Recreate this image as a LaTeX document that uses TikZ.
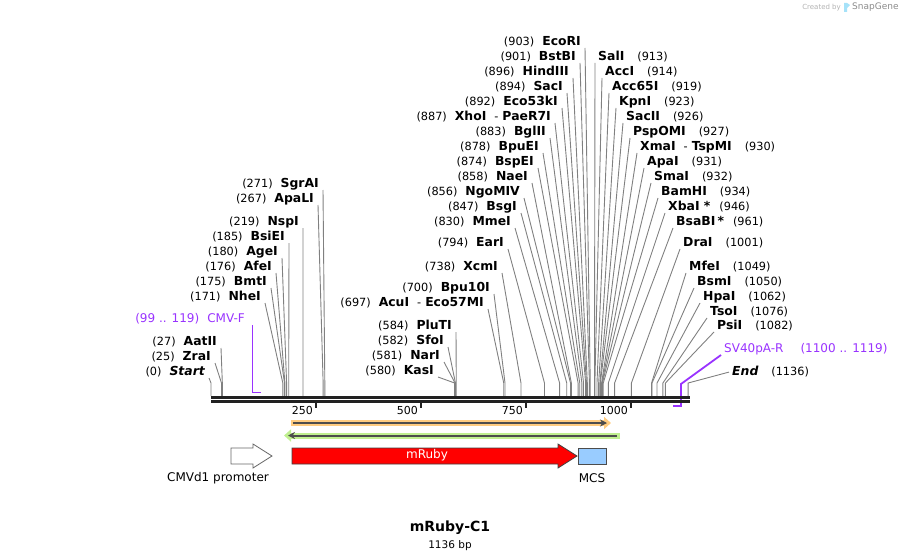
\documentclass[tikz,border=0pt]{standalone}
\usepackage{fontspec}
\setmainfont{DejaVu Sans}
\usepackage{tikz}
\usetikzlibrary{
  arrows.meta,
  positioning}

\definecolor{sitegray}{HTML}{808080}
\definecolor{primerpurple}{HTML}{9933FF}
\definecolor{orfdark}{HTML}{4D4D4D}
\definecolor{orfhaloA}{HTML}{FFCC80}
\definecolor{orfhaloB}{HTML}{C0F090}
\definecolor{mcsblue}{HTML}{99CCFF}

\newcommand{\nm}[1]{{\fontsize{12.4}{13}\selectfont\bfseries #1}}
\newcommand{\bpx}[1]{211+0.42*#1}

\tikzset{
  lsite/.style={anchor=south east, inner xsep=4pt, inner ysep=0pt, text depth=2pt,
    font=\fontsize{11.3}{12}\selectfont},
  rsite/.style={lsite, anchor=south west, inner xsep=3pt},
  cut/.style={draw=sitegray, line width=0.9pt},
  primer/.style={draw=primerpurple, line width=1.8pt},
  featlabel/.style={font=\fontsize{12}{13}\selectfont},
  ticklabel/.style={anchor=east, inner sep=0pt, font=\fontsize{11}{12}\selectfont}
}

\begin{document}
\begin{tikzpicture}[x=1pt, y=-1pt]
\useasboundingbox (0,0) rectangle (901,559);

% sites left of 300
\node[lsite] (sgrai) at (323,190) {(271)\hspace{8pt}\nm{SgrAI}};
\node[lsite] (apali) at (318,205) {(267)\hspace{8pt}\nm{ApaLI}};
\node[lsite] (nspi) at (303,228) {(219)\hspace{8pt}\nm{NspI}};
\node[lsite] (bsiei) at (289,243) {(185)\hspace{8pt}\nm{BsiEI}};
\node[lsite] (agei) at (282,258) {(180)\hspace{8pt}\nm{AgeI}};
\node[lsite] (afei) at (276,273) {(176)\hspace{8pt}\nm{AfeI}};
\node[lsite] (bmti) at (271,288) {(175)\hspace{8pt}\nm{BmtI}};
\node[lsite] (nhei) at (265,303) {(171)\hspace{8pt}\nm{NheI}};
\node[lsite] (aatii) at (221,348) {(27)\hspace{8pt}\nm{AatII}};
\node[lsite] (zrai) at (215,363) {(25)\hspace{8pt}\nm{ZraI}};
\node[lsite] (start) at (209,378) {(0)\hspace{8pt}\nm{\itshape Start}};

\draw[cut] (sgrai.south east) -- ({\bpx{271}},383) -- ++(0,13);
\draw[cut] (apali.south east) -- ({\bpx{267}},383) -- ++(0,13);
\draw[cut] (nspi.south east) -- ({\bpx{219}},383) -- ++(0,13);
\draw[cut] (bsiei.south east) -- ({\bpx{185}},383) -- ++(0,13);
\draw[cut] (agei.south east) -- ({\bpx{180}},383) -- ++(0,13);
\draw[cut] (afei.south east) -- ({\bpx{176}},383) -- ++(0,13);
\draw[cut] (bmti.south east) -- ({\bpx{175}},383) -- ++(0,13);
\draw[cut] (nhei.south east) -- ({\bpx{171}},383) -- ++(0,13);
\draw[cut] (aatii.south east) -- ({\bpx{27}},383) -- ++(0,13);
\draw[cut] (zrai.south east) -- ({\bpx{25}},383) -- ++(0,13);
\draw[cut] (start.south east) -- ({\bpx{0}},383) -- ++(0,13);

% primer CMV-F
\node[lsite, text=primerpurple, font=\fontsize{12}{13}\selectfont] (cmvf) at (249,325)
  {(99 .. 119)\hspace{8pt}CMV-F};
\coordinate (cmvfend) at ({\bpx{119}},392.5);
\draw[primer] (cmvf.south east -| {\bpx{99}},0) -- ({\bpx{99}},392.5) -- (cmvfend);

% sites in the middle, left side of the fan
\node[lsite] (acui) at (488,309) {(697)\hspace{8pt}\nm{AcuI}\hspace{8pt}-\hspace{4pt}\nm{Eco57MI}};
\node[lsite] (bpu10i) at (494,294) {(700)\hspace{8pt}\nm{Bpu10I}};
\node[lsite] (pluti) at (456,332) {(584)\hspace{8pt}\nm{PluTI}};
\node[lsite] (sfoi) at (448,347) {(582)\hspace{8pt}\nm{SfoI}};
\node[lsite] (nari) at (444,362) {(581)\hspace{8pt}\nm{NarI}};
\node[lsite] (kasi) at (438,377) {(580)\hspace{8pt}\nm{KasI}};
\node[lsite] (xcmi) at (502,273) {(738)\hspace{8pt}\nm{XcmI}};
\node[lsite] (eari) at (508,249) {(794)\hspace{8pt}\nm{EarI}};
\node[lsite] (mmei) at (515,228) {(830)\hspace{8pt}\nm{MmeI}};
\node[lsite] (bsgi) at (521,213) {(847)\hspace{8pt}\nm{BsgI}};
\node[lsite] (ngomiv) at (524,198) {(856)\hspace{8pt}\nm{NgoMIV}};
\node[lsite] (naei) at (532,183) {(858)\hspace{8pt}\nm{NaeI}};
\node[lsite] (bspei) at (538,168) {(874)\hspace{8pt}\nm{BspEI}};
\node[lsite] (bpuei) at (543,153) {(878)\hspace{8pt}\nm{BpuEI}};
\node[lsite] (bglii) at (550,138) {(883)\hspace{8pt}\nm{BglII}};
\node[lsite] (xhoi) at (555,123) {(887)\hspace{8pt}\nm{XhoI}\hspace{8pt}-\hspace{4pt}\nm{PaeR7I}};
\node[lsite] (eco53ki) at (562,108) {(892)\hspace{8pt}\nm{Eco53kI}};
\node[lsite] (saci) at (567,93) {(894)\hspace{8pt}\nm{SacI}};
\node[lsite] (hindiii) at (573,78) {(896)\hspace{8pt}\nm{HindIII}};
\node[lsite] (bstbi) at (580,63) {(901)\hspace{8pt}\nm{BstBI}};
\node[lsite] (ecori) at (585,48) {(903)\hspace{8pt}\nm{EcoRI}};

\draw[cut] (acui.south east) -- ({\bpx{697}},383) -- ++(0,13);
\draw[cut] (bpu10i.south east) -- ({\bpx{700}},383) -- ++(0,13);
\draw[cut] (pluti.south east) -- ({\bpx{584}},383) -- ++(0,13);
\draw[cut] (sfoi.south east) -- ({\bpx{582}},383) -- ++(0,13);
\draw[cut] (nari.south east) -- ({\bpx{581}},383) -- ++(0,13);
\draw[cut] (kasi.south east) -- ({\bpx{580}},383) -- ++(0,13);
\draw[cut] (xcmi.south east) -- ({\bpx{738}},383) -- ++(0,13);
\draw[cut] (eari.south east) -- ({\bpx{794}},383) -- ++(0,13);
\draw[cut] (mmei.south east) -- ({\bpx{830}},383) -- ++(0,13);
\draw[cut] (bsgi.south east) -- ({\bpx{847}},383) -- ++(0,13);
\draw[cut] (ngomiv.south east) -- ({\bpx{856}},383) -- ++(0,13);
\draw[cut] (naei.south east) -- ({\bpx{858}},383) -- ++(0,13);
\draw[cut] (bspei.south east) -- ({\bpx{874}},383) -- ++(0,13);
\draw[cut] (bpuei.south east) -- ({\bpx{878}},383) -- ++(0,13);
\draw[cut] (bglii.south east) -- ({\bpx{883}},383) -- ++(0,13);
\draw[cut] (xhoi.south east) -- ({\bpx{887}},383) -- ++(0,13);
\draw[cut] (eco53ki.south east) -- ({\bpx{892}},383) -- ++(0,13);
\draw[cut] (saci.south east) -- ({\bpx{894}},383) -- ++(0,13);
\draw[cut] (hindiii.south east) -- ({\bpx{896}},383) -- ++(0,13);
\draw[cut] (bstbi.south east) -- ({\bpx{901}},383) -- ++(0,13);
\draw[cut] (ecori.south east) -- ({\bpx{903}},383) -- ++(0,13);

% sites on the right side
\node[rsite] (sali) at (595,63) {\nm{SalI}\hspace{13pt}(913)};
\node[rsite] (acci) at (602,78) {\nm{AccI}\hspace{13pt}(914)};
\node[rsite] (acc65i) at (609,93) {\nm{Acc65I}\hspace{13pt}(919)};
\node[rsite] (kpni) at (616,108) {\nm{KpnI}\hspace{13pt}(923)};
\node[rsite] (sacii) at (623,123) {\nm{SacII}\hspace{13pt}(926)};
\node[rsite] (pspomi) at (630,138) {\nm{PspOMI}\hspace{13pt}(927)};
\node[rsite] (xmai) at (637,153) {\nm{XmaI}\hspace{8pt}-\hspace{4pt}\nm{TspMI}\hspace{13pt}(930)};
\node[rsite] (apai) at (644,168) {\nm{ApaI}\hspace{13pt}(931)};
\node[rsite] (smai) at (651,183) {\nm{SmaI}\hspace{13pt}(932)};
\node[rsite] (bamhi) at (658,198) {\nm{BamHI}\hspace{13pt}(934)};
\node[rsite] (xbai) at (665,213) {\nm{XbaI *}\hspace{9pt}(946)};
\node[rsite] (bsabi) at (673,228) {\nm{BsaBI\,*}\hspace{9pt}(961)};
\node[rsite] (drai) at (680,249) {\nm{DraI}\hspace{13pt}(1001)};
\node[rsite] (mfei) at (686,273) {\nm{MfeI}\hspace{13pt}(1049)};
\node[rsite] (bsmi) at (694,288) {\nm{BsmI}\hspace{13pt}(1050)};
\node[rsite] (hpai) at (700,303) {\nm{HpaI}\hspace{13pt}(1062)};
\node[rsite] (tsoi) at (707,318) {\nm{TsoI}\hspace{13pt}(1076)};
\node[rsite] (psii) at (714,332) {\nm{PsiI}\hspace{13pt}(1082)};
\node[rsite] (end) at (729,378) {\nm{\itshape End}\hspace{13pt}(1136)};

\draw[cut] (sali.south west) -- ({\bpx{913}},383) -- ++(0,13);
\draw[cut] (acci.south west) -- ({\bpx{914}},383) -- ++(0,13);
\draw[cut] (acc65i.south west) -- ({\bpx{919}},383) -- ++(0,13);
\draw[cut] (kpni.south west) -- ({\bpx{923}},383) -- ++(0,13);
\draw[cut] (sacii.south west) -- ({\bpx{926}},383) -- ++(0,13);
\draw[cut] (pspomi.south west) -- ({\bpx{927}},383) -- ++(0,13);
\draw[cut] (xmai.south west) -- ({\bpx{930}},383) -- ++(0,13);
\draw[cut] (apai.south west) -- ({\bpx{931}},383) -- ++(0,13);
\draw[cut] (smai.south west) -- ({\bpx{932}},383) -- ++(0,13);
\draw[cut] (bamhi.south west) -- ({\bpx{934}},383) -- ++(0,13);
\draw[cut] (xbai.south west) -- ({\bpx{946}},383) -- ++(0,13);
\draw[cut] (bsabi.south west) -- ({\bpx{961}},383) -- ++(0,13);
\draw[cut] (drai.south west) -- ({\bpx{1001}},383) -- ++(0,13);
\draw[cut] (mfei.south west) -- ({\bpx{1049}},383) -- ++(0,13);
\draw[cut] (bsmi.south west) -- ({\bpx{1050}},383) -- ++(0,13);
\draw[cut] (hpai.south west) -- ({\bpx{1062}},383) -- ++(0,13);
\draw[cut] (tsoi.south west) -- ({\bpx{1076}},383) -- ++(0,13);
\draw[cut] (psii.south west) -- ({\bpx{1082}},383) -- ++(0,13);
\draw[cut] (end.west) -- ({\bpx{1136}},383) -- ++(0,13);

% primer SV40pA-R
\node[rsite, text=primerpurple, font=\fontsize{12}{13}\selectfont] (sv40) at (721,355)
  {SV40pA-R\hspace{17pt}(1100 .. 1119)};
\coordinate (sv40end) at ({\bpx{1100}},406);
\draw[primer] (sv40.south west) -- ({\bpx{1119}},384) -- ({\bpx{1119}},406) -- (sv40end);

% sequence
\draw[line width=2.7pt, black!87] (211,397.3) -- (690,397.3);
\draw[line width=2.7pt, black!87] (211,401.7) -- (690,401.7);
\draw[line width=2pt, black!87] ({\bpx{250}},402) -- ++(0,6);
\draw[line width=2pt, black!87] ({\bpx{500}},402) -- ++(0,6);
\draw[line width=2pt, black!87] ({\bpx{750}},402) -- ++(0,6);
\draw[line width=2pt, black!87] ({\bpx{1000}},402) -- ++(0,6);
\node[ticklabel] (t250) at (313,410) {250};
\node[ticklabel] (t500) at (418,410) {500};
\node[ticklabel] (t750) at (523,410) {750};
\node[ticklabel] (t1000) at (628,410) {1000};

% orfs
\draw[line width=6pt, orfhaloA, -{Triangle[length=7pt,width=12pt]}] (291,423) -- (611,423);
\draw[line width=2pt, orfdark, -{Stealth[length=7pt,width=7pt]}] (293,423) -- (607,423);
\draw[line width=6pt, orfhaloB, -{Triangle[length=7pt,width=12pt]}] (620,435.5) -- (284,435.5);
\draw[line width=2pt, orfdark, -{Stealth[length=7pt,width=7pt]}] (617,435.5) -- (288,435.5);

% features
\draw[draw=black!60, fill=white, line width=0.8pt]
  (231,448) -- (253,448) -- (253,444) -- (272,456) -- (253,468) -- (253,464) -- (231,464) -- cycle;
\node[featlabel] (cmvd1) at (218,478) {CMVd1 promoter};
\draw[draw=black!75, fill=red, line width=0.8pt]
  (292,448) -- (558,448) -- (558,444) -- (577,456) -- (558,468) -- (558,464) -- (292,464) -- cycle;
\node[featlabel, text=white] (mruby) at (427,455) {mRuby};
\draw[draw=black!70, fill=mcsblue, line width=0.8pt] (578,448) rectangle (606,464);
\node[featlabel] (mcs) at (592,478) {MCS};

% title
\node[font=\fontsize{14}{16}\selectfont\bfseries] (title) at (450,528) {mRuby-C1};
\node[font=\fontsize{10.5}{12}\selectfont, below=-1pt of title] (bp) {1136 bp};

% watermark
\node[anchor=east, inner sep=0pt, text=black!30, font=\fontsize{7}{8}\selectfont] (createdby) at (841,7.5) {Created by};
\fill[cyan!35] (844,3) rectangle (847,12) (847,3) -- (850,5) -- (847,8) -- cycle;
\node[anchor=west, inner sep=0pt, text=black!45, font=\fontsize{9}{10}\selectfont] (snapgene) at (852,7) {SnapGene};
\end{tikzpicture}
\end{document}
